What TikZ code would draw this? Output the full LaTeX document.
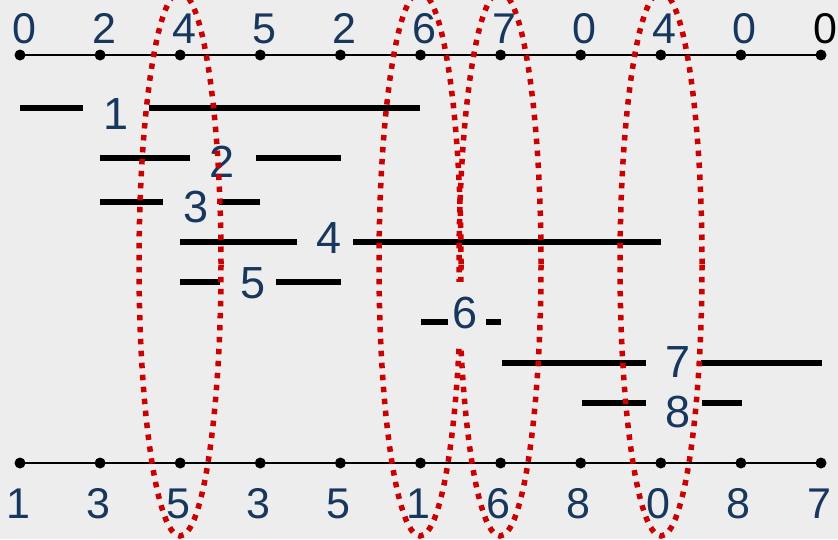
\documentclass[tikz,border=0pt]{standalone}
\usepackage{fontspec}
\setmainfont{Liberation Sans}
\usetikzlibrary{shapes.geometric}
\definecolor{bg}{RGB}{237,237,237}
\definecolor{numblue}{RGB}{23,55,94}
\definecolor{dotred}{RGB}{204,0,0}
\begin{document}
\begin{tikzpicture}[x=1pt,y=-1pt,
  axisdot/.style={circle,fill=black,inner sep=0pt,minimum size=11pt},
  axisnum/.style={font=\fontsize{43}{43}\selectfont,anchor=base,inner sep=0pt},
  seglabel/.style={text=numblue,font=\fontsize{45}{45}\selectfont,anchor=base,inner sep=0pt},
  axisline/.style={line width=2.5pt,black},
  seg/.style={line width=6pt,black},
  ring/.style={draw=dotred,ellipse,line width=5.5pt,dash pattern=on 5.5pt off 6.5pt,
    inner sep=0pt,minimum width=82pt,minimum height=544pt}]
\fill[bg] (0,0) rectangle (838,539);
\useasboundingbox (0,0) rectangle (838,539);
\clip (0,0) rectangle (838,539);
% axes
\foreach \i/\t/\b/\c in {0/0/1/numblue,1/2/3/numblue,2/4/5/numblue,3/5/3/numblue,4/2/5/numblue,
  5/6/1/numblue,6/7/6/numblue,7/0/8/numblue,8/4/0/numblue,9/0/8/numblue,10/0/7/black}{
  \node[axisdot] (t\i) at ({20+80.1*\i},55) {};
  \node[axisdot] (b\i) at ({20+80.1*\i},463) {};
  \node[axisnum,text=\c] (tl\i) at ({24+80.1*\i},43) {\t};
  \node[axisnum,text=numblue] (bl\i) at ({18+80.1*\i},518) {\b};
}
\draw[axisline] (t0.center) -- (t10.center);
\draw[axisline] (b0.center) -- (b10.center);
% segments and labels
\node[seglabel] (l1) at (116,129) {1};
\coordinate (s1a) at (20,108); \coordinate (s1b) at (83,108);
\coordinate (s1c) at (149,108); \coordinate (s1d) at (420,108);
\node[seglabel] (l2) at (222,177) {2};
\coordinate (s2a) at (100,158); \coordinate (s2b) at (190,158);
\coordinate (s2c) at (256,158); \coordinate (s2d) at (341,158);
\node[seglabel] (l3) at (196,222) {3};
\coordinate (s3a) at (100,202); \coordinate (s3b) at (163,202);
\coordinate (s3c) at (219,202); \coordinate (s3d) at (260,202);
\node[seglabel] (l4) at (329,253) {4};
\coordinate (s4a) at (180,242); \coordinate (s4b) at (297,242);
\coordinate (s4c) at (353,242); \coordinate (s4d) at (661,242);
\node[seglabel] (l5) at (253,298) {5};
\coordinate (s5a) at (180,282); \coordinate (s5b) at (220,282);
\coordinate (s5c) at (276,282); \coordinate (s5d) at (341,282);
\coordinate (s6a) at (421,322); \coordinate (s6b) at (448,322);
\coordinate (s6c) at (486,322); \coordinate (s6d) at (501,322);
\node[seglabel] (l7) at (678,377) {7};
\coordinate (s7a) at (502,363); \coordinate (s7b) at (646,363);
\coordinate (s7c) at (701,363); \coordinate (s7d) at (822,363);
\node[seglabel] (l8) at (678,427) {8};
\coordinate (s8a) at (582,403); \coordinate (s8b) at (646,403);
\coordinate (s8c) at (702,403); \coordinate (s8d) at (742,403);
\foreach \r in {1,...,8}{
  \draw[seg] (s\r a) -- (s\r b);
  \draw[seg] (s\r c) -- (s\r d);
}
% dotted ellipses
\node[ring] (e1) at (180,264) {};
\node[ring] (e2) at (420,264) {};
\node[ring] (e3) at (500,264) {};
\node[ring] (e4) at (661,264) {};
% label 6 on a patch of background
\node[text=numblue,font=\fontsize{45}{45}\selectfont,fill=bg,inner xsep=1pt,inner ysep=0pt,
  minimum height=64pt] (l6) at (465,313.5) {6};
\end{tikzpicture}
\end{document}
